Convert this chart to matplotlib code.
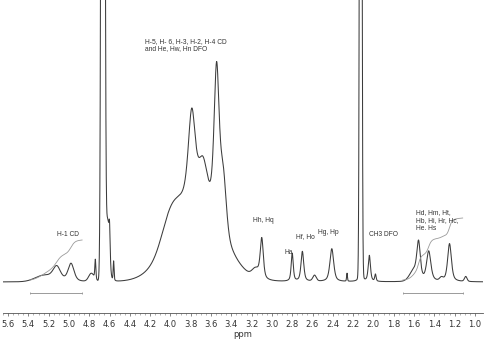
import numpy as np
import matplotlib
matplotlib.use('Agg')
import matplotlib.pyplot as plt

plt.rc('font', family='DejaVu Sans', size=6)
plt.rc('lines', lw=0.7)

# peak list:
# position (ppm), height above baseline, half width (ppm), lorentzian fraction
peak_ppm = [5.25, 5.12, 4.98, 4.78, 4.74, 4.665, 4.62, 4.60, 4.56,
            3.75, 4.00, 3.79, 3.68, 3.545, 3.48, 3.16, 3.10,
            2.80, 2.70, 2.58, 2.41, 2.26, 2.125, 2.125, 2.04, 1.98,
            1.60, 1.555, 1.455, 1.33, 1.25, 1.09]
peak_height = [6, 14, 18, 8, 20, 2500, 60, 30, 20,
               85, 24, 85, 35, 152, 55, 8, 40,
               28, 30, 6, 33, 8, 1500, 20, 26, 7,
               10, 35, 30, 3, 38, 5]
peak_width = [0.10, 0.045, 0.035, 0.03, 0.006, 0.014, 0.02, 0.007, 0.005,
              0.28, 0.10, 0.04, 0.05, 0.03, 0.035, 0.04, 0.018,
              0.012, 0.016, 0.02, 0.022, 0.005, 0.01, 0.012, 0.013, 0.008,
              0.05, 0.02, 0.025, 0.02, 0.022, 0.015]
peak_eta = [0.0, 0.5, 0.5, 0.0, 0.5, 0.0, 0.0, 0.5, 0.5,
            0.0, 0.0, 0.5, 0.3, 0.5, 0.3, 0.0, 0.6,
            0.6, 0.6, 0.3, 0.6, 0.3, 0.0, 1.0, 0.6, 0.5,
            0.0, 0.6, 0.6, 0.0, 0.6, 0.3]
baseline = 31

# integrated regions (ppm) and where the integral trace starts / ends
int_lo = [4.87, 1.12]
int_hi = [5.38, 1.71]
int_y0 = [33, 33]
int_y1 = [73, 95]

label_text = ['H-5, H- 6, H-3, H-2, H-4 CD\nand He, Hw, Hn DFO', 'H-1 CD',
              'Hh, Hq', 'Ha', 'Hf, Ho', 'Hg, Hp', 'CH3 DFO',
              'Hd, Hm, Ht,\nHb, Hi, Hr, Hc,\nHe. Hs']
label_ppm = [4.25, 5.014, 3.088, 2.832, 2.674, 2.442, 1.896, 1.58]
label_y = [268, 78, 93, 61, 76, 81, 78, 92]
label_spacing = [1.05, 1.05, 1.05, 1.05, 1.05, 1.05, 1.05, 1.2]


def peak_shape(x, c, h, w, eta):
    d = (x - c) / w
    return h * (eta / (1 + d**2) + (1 - eta) * np.exp(-np.log(2) * d**2))


ppm = np.linspace(5.66, 0.9, 8000)
spec = np.full_like(ppm, baseline, dtype=float)
for c, h, w, eta in zip(peak_ppm, peak_height, peak_width, peak_eta):
    spec += peak_shape(ppm, c, h, w, eta)


def integral_curve(lo, hi, y0, y1):
    m = (ppm <= hi) & (ppm >= lo)
    s = np.cumsum(spec[m] - baseline)
    s = s / s[-1]
    return ppm[m], y0 + (y1 - y0) * s


fig = plt.figure(figsize=(4.86, 3.41), dpi=100)
ax = fig.add_axes([3 / 486, 28 / 341, 480 / 486, 313 / 341])
ax.plot(ppm, spec, c='#3c3c3c', lw=0.75)

for lo, hi, y0, y1 in zip(int_lo, int_hi, int_y0, int_y1):
    xi, yi = integral_curve(lo, hi, y0, y1)
    ax.plot(xi, yi, c='#9a9a9a', lw=0.6)
    ax.plot([hi, lo], [20, 20], c='#9a9a9a', lw=0.7, marker='|', ms=2, mew=0.6)

for t, x, y, ls in zip(label_text, label_ppm, label_y, label_spacing):
    ha = 'left' if '\n' in t else 'center'
    ax.text(x, y, t, ha=ha, va='center', fontsize=4.8, family='Liberation Sans',
            color='#333333', linespacing=ls)

ax.set_xlim(5.65, 0.92)
ax.set_ylim(0, 313)
ax.set_yticks([])
ax.set_xticks(np.arange(1.0, 5.61, 0.2))
ax.set_xticks(np.arange(1.0, 5.66, 0.05), minor=True)
ax.xaxis.set_major_formatter(matplotlib.ticker.FormatStrFormatter('%.1f'))
for s in ['top', 'left', 'right']:
    ax.spines[s].set_visible(False)
ax.spines['bottom'].set_color('#555555')
ax.spines['bottom'].set_linewidth(0.6)
ax.tick_params(axis='x', which='major', length=2.2, width=0.5, color='#555555',
               labelcolor='#333333', pad=2.5, labelsize=6)
ax.tick_params(axis='x', which='minor', length=1.3, width=0.4, color='#777777')
ax.set_xlabel('ppm', fontsize=6, color='#333333', labelpad=1)
ax.patch.set_alpha(0)

fig.savefig('out.png', dpi=100)
